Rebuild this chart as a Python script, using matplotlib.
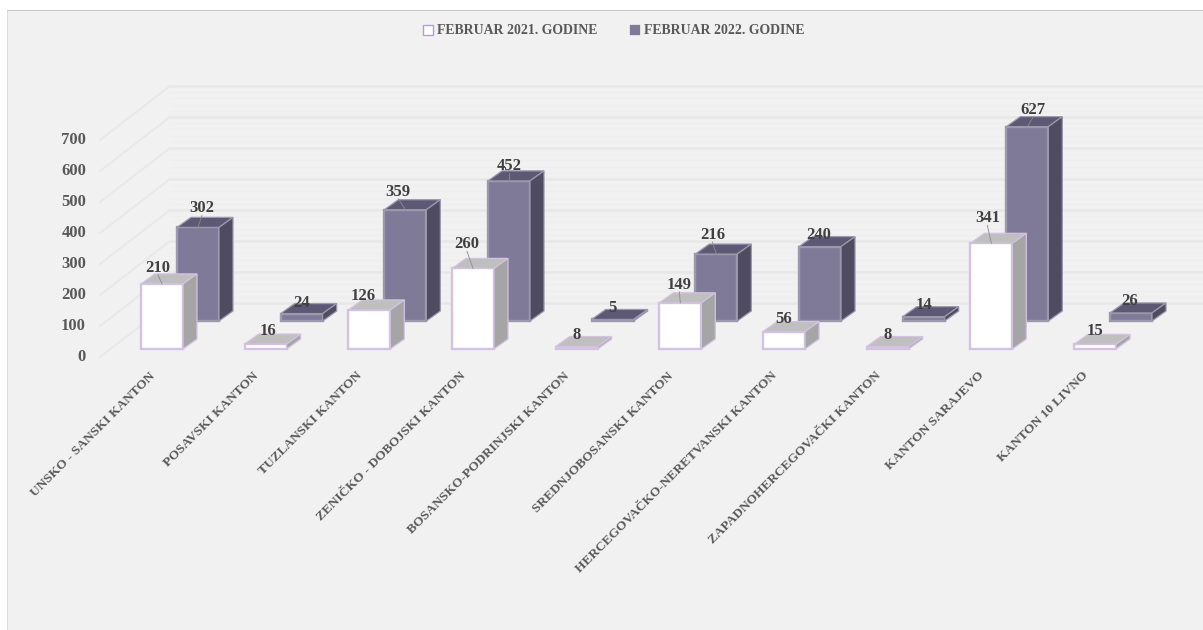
import matplotlib
matplotlib.use('Agg')
import matplotlib.pyplot as plt
from matplotlib.patches import Patch, Polygon, Rectangle

categories = [
    'UNSKO - SANSKI KANTON', 'POSAVSKI KANTON', 'TUZLANSKI KANTON',
    'ZENIČKO - DOBOJSKI KANTON', 'BOSANSKO-PODRINJSKI KANTON',
    'SREDNJOBOSANSKI KANTON', 'HERCEGOVAČKO-NERETVANSKI KANTON',
    'ZAPADNOHERCEGOVAČKI KANTON', 'KANTON SARAJEVO', 'KANTON 10 LIVNO',
]
feb_2021 = [210, 16, 126, 260, 8, 149, 56, 8, 341, 15]
feb_2022 = [302, 24, 359, 452, 5, 216, 240, 14, 627, 26]
y_ticks = [0, 100, 200, 300, 400, 500, 600, 700]
legend_labels = ['FEBRUAR 2021. GODINE', 'FEBRUAR 2022. GODINE']

# label offsets from the top of each bar, pixels
label_dx_2021 = [-4, 2, -6, -6, 0, -1, 0, 0, -4, 0]
label_dy_2021 = [17, 14, 15, 25, 13, 19, 14, 13, 26, 14]
label_dx_2022 = [4, 0, -7, 0, 0, -4, -1, 0, 6, -1]
label_dy_2022 = [20, 12, 19, 16, 12, 20, 13, 13, 18, 13]

W, H = 1203, 630
PX_CAT = 103.67
PX_VAL = 0.31
X0, Y0 = 162, 349  # centre of the first front bar, front baseline
BAR_W = 42
DEPTH_X, DEPTH_Y = 14, 10
BACK_X, BACK_Y = 36, 28

plt.rcParams['font.family'] = 'Liberation Serif'
plt.rcParams['font.weight'] = 'bold'

fig = plt.figure(figsize=(W / 100, H / 100), dpi=100, facecolor='white')
ax = fig.add_axes([0, 0, 1, 1])
ax.set_xlim(-X0 / PX_CAT, (W - X0) / PX_CAT)
ax.set_ylim((Y0 - H) / PX_VAL, Y0 / PX_VAL)
ax.axis('off')


def dx(px):
    return px / PX_CAT


def dy(px):
    return px / PX_VAL


def draw_bars(values, x_shift, y_shift, front, top, side, edge):
    xs = [i + dx(x_shift) for i in range(len(values))]
    base = dy(y_shift)
    ax.bar(xs, values, width=dx(BAR_W), bottom=base, color=front,
           edgecolor=edge, linewidth=1.7, zorder=3)
    for x, v in zip(xs, values):
        l, r = x - dx(BAR_W / 2), x + dx(BAR_W / 2)
        b, t = base, base + v
        ddx, ddy = dx(DEPTH_X), dy(DEPTH_Y)
        ax.add_patch(Polygon([(l, t), (r, t), (r + ddx, t + ddy), (l + ddx, t + ddy)],
                             facecolor=top, edgecolor=edge, linewidth=0.9, zorder=3))
        ax.add_patch(Polygon([(r, b), (r, t), (r + ddx, t + ddy), (r + ddx, b + ddy)],
                             facecolor=side, edgecolor=edge, linewidth=0.9, zorder=3))
    return xs, base


def draw_labels(xs, base, values, label_dx, label_dy):
    for x, v, ox, oy in zip(xs, values, label_dx, label_dy):
        t = base + v
        if oy >= 16:
            ax.plot([x, x + dx(ox)], [t, t + dy(oy - 8)],
                    color='#8c8c8c', linewidth=0.6, zorder=6)
        ax.text(x + dx(ox), t + dy(oy - 1), str(v), ha='center', va='center',
                fontsize=12, color='#404040', zorder=7)


# panel
fig.patches.append(Rectangle((7 / W, 0), (W - 7) / W, (H - 11) / H,
                             transform=fig.transFigure, facecolor='#f1f1f1',
                             edgecolor='none', zorder=-2))
fig.patches.append(Rectangle((7 / W, (H - 11) / H), (W - 7) / W, 1 / H,
                             transform=fig.transFigure, facecolor='#c8c8c8',
                             edgecolor='none', zorder=-1))
fig.patches.append(Rectangle((7 / W, 0), 1 / W, (H - 11) / H,
                             transform=fig.transFigure, facecolor='#dcdcdc',
                             edgecolor='none', zorder=-1))

# floor/wall gridlines
wall_x0 = (100 - X0) / PX_CAT
wall_x1 = (170 - X0) / PX_CAT
wall_x2 = (W - X0) / PX_CAT
tick_base = dy(Y0 - 357)
wall_rise = dy(54)
for t in range(0, 700, 20):
    y = tick_base + t + wall_rise
    ax.plot([wall_x1, wall_x2], [y, y], color='#eeeeee', linewidth=1, zorder=0.5)
for t in y_ticks:
    y = tick_base + t
    ax.plot([wall_x0, wall_x1], [y, y + wall_rise], color='#e8e8e8', linewidth=1.3, zorder=1)
    ax.plot([wall_x1, wall_x2], [y + wall_rise, y + wall_rise], color='#e8e8e8',
            linewidth=1.8, zorder=1)
    ax.text((86 - X0) / PX_CAT, y - dy(0.5), str(t), ha='right', va='center',
            fontsize=12, color='#595959', zorder=5)

# back row first so the front row covers it
back_xs, back_base = draw_bars(feb_2022, BACK_X, BACK_Y, '#7f7a98', '#5d5874', '#4f4b60', '#9c99ad')
front_xs, front_base = draw_bars(feb_2021, 0, 0, 'white', '#bfbfbf', '#a5a5a5', '#d4c2e2')
draw_labels(back_xs, back_base, feb_2022, label_dx_2022, label_dy_2022)
draw_labels(front_xs, front_base, feb_2021, label_dx_2021, label_dy_2021)

for i, name in enumerate(categories):
    ax.text(i - dx(9), dy(-25), name, rotation=45, rotation_mode='anchor',
            ha='right', va='center', fontsize=9.6, color='#595959', zorder=5)

handles = [Patch(facecolor='white', edgecolor='#b79bd0', linewidth=1),
           Patch(facecolor='#7f7a98', edgecolor='#7f7a98', linewidth=0.2)]
ax.legend(handles, legend_labels, ncol=2, frameon=False, loc='center',
          bbox_to_anchor=(614 / W, 1 - 31 / H), bbox_transform=fig.transFigure,
          fontsize=9.9, labelcolor='#595959', handlelength=0.7, handleheight=0.7,
          handletextpad=0.3, columnspacing=2.4, borderpad=0)

fig.savefig('out.png', dpi=100)
